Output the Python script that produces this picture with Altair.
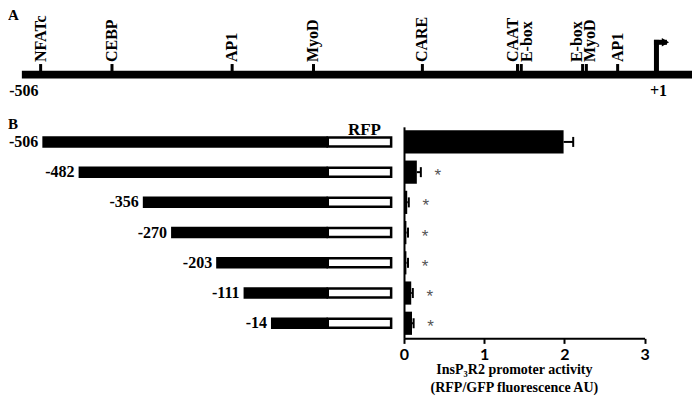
import altair as alt
import pandas as pd

# ---------------- data ----------------
# Panel A: promoter map (positions in bp relative to TSS)
site_names = ["NFATc", "CEBP", "AP1", "MyoD", "CARE", "CAAT", "E-box", "E-box", "MyoD", "AP1"]
site_bp = [-491, -434, -338, -273, -186, -110, -107, -58, -55, -30]
promoter_start = -506
tss = 1
line_end = 33
end_labels = ["-506", "+1"]
end_label_bp = [-506, 1]

# Panel B: deletion constructs
constructs = ["-506", "-482", "-356", "-270", "-203", "-111", "-14"]
schematic_start = [-1.0, -0.873, -0.648, -0.549, -0.391, -0.295, -0.199]  # relative drawn length
rfp_len = 0.222
activity = [1.99, 0.16, 0.04, 0.03, 0.03, 0.09, 0.10]
activity_err = [0.12, 0.05, 0.02, 0.02, 0.02, 0.02, 0.02]
significance = ["", "*", "*", "*", "*", "*", "*"]
x_title = ["InsP\u2083R2 promoter activity", "(RFP/GFP fluorescence AU)"]

# ---------------- layout helpers ----------------
def vx(x):
    return (x - 2) * 0.99

def vy(y):
    return y * 0.966

W = 684
H = vy(342)
SERIF = "Liberation Serif"

xA = alt.Scale(domain=[promoter_start, tss], range=[vx(16), vx(657)])
ppb = (vx(657) - vx(16)) / (tss - promoter_start)
label_dx_px = {5: -5, 6: 6, 7: -6, 8: 4}

sites = pd.DataFrame({
    "site": site_names,
    "bp": site_bp,
    "label_bp": [b + label_dx_px.get(i, 0) / ppb for i, b in enumerate(site_bp)],
})
line_df = pd.DataFrame({"start": [promoter_start], "end": [line_end]})
ends_df = pd.DataFrame({"bp": end_label_bp, "lab": end_labels})
tss_df = pd.DataFrame({"tss": [tss], "arrow_end": [tss + 8 / ppb], "head": [tss + 9 / ppb]})

lineA = alt.Chart(line_df).mark_rule(color="black", strokeWidth=vy(8), strokeCap="butt").encode(
    x=alt.X("start:Q", scale=xA, axis=None), x2="end:Q", y=alt.value(vy(69)))
ticksA = alt.Chart(sites).mark_rule(color="black", strokeWidth=3).encode(
    x=alt.X("bp:Q", scale=xA), y=alt.value(vy(58)), y2=alt.value(vy(67)))
labelsA = alt.Chart(sites).mark_text(angle=270, align="left", baseline="middle",
                                     font=SERIF, fontWeight="bold", fontSize=16, color="black").encode(
    x=alt.X("label_bp:Q", scale=xA), y=alt.value(vy(56)), text="site:N")
endsA = alt.Chart(ends_df).mark_text(align="center", baseline="middle", dx=2,
                                     font=SERIF, fontWeight="bold", fontSize=16, color="black").encode(
    x=alt.X("bp:Q", scale=xA), y=alt.value(vy(86)), text="lab:N")
arrowV = alt.Chart(tss_df).mark_rule(color="black", strokeWidth=5, strokeCap="butt").encode(
    x=alt.X("tss:Q", scale=xA), y=alt.value(vy(33)), y2=alt.value(vy(66)))
arrowH = alt.Chart(tss_df).mark_rule(color="black", strokeWidth=5, strokeCap="square").encode(
    x=alt.X("tss:Q", scale=xA), x2="arrow_end:Q", y=alt.value(vy(35.5)))
arrowHead = alt.Chart(tss_df).mark_point(shape="triangle-right", filled=True, color="black",
                                         size=70, opacity=1).encode(
    x=alt.X("head:Q", scale=xA), y=alt.value(vy(35.5)))
panelA = alt.layer(lineA, ticksA, labelsA, endsA, arrowV, arrowH, arrowHead)

# ---------------- panel B: schematic ----------------
yB = alt.Scale(domain=constructs, range=[vy(123), vy(342)], paddingInner=0.23, paddingOuter=0.115)
xS = alt.Scale(domain=[-1.0, rfp_len], range=[vx(36.7), vx(389)])

schem_df = pd.DataFrame({"construct": constructs, "start": schematic_start,
                         "zero": [0.0] * len(constructs), "rfp": [rfp_len] * len(constructs)})
blackBars = alt.Chart(schem_df).mark_bar(color="black", size=11.5).encode(
    x=alt.X("start:Q", scale=xS, axis=None), x2="zero:Q",
    y=alt.Y("construct:N", scale=yB, sort=constructs, axis=None))
rfpBox = alt.Chart(schem_df).mark_bar(fill="white", stroke="black", strokeWidth=2.5, size=9).encode(
    x=alt.X("zero:Q", scale=xS), x2="rfp:Q",
    y=alt.Y("construct:N", scale=yB, sort=constructs))
rowLabels = alt.Chart(schem_df).mark_text(align="right", baseline="middle", dx=-4,
                                          font=SERIF, fontWeight="bold", fontSize=16, color="black").encode(
    x=alt.X("start:Q", scale=xS),
    y=alt.Y("construct:N", scale=yB, sort=constructs), text="construct:N")
schem = alt.layer(blackBars, rfpBox, rowLabels)

# ---------------- panel B: activity bars ----------------
xB = alt.Scale(domain=[0, 3], range=[vx(402), vx(645)])
bar_df = pd.DataFrame({"construct": constructs, "value": activity,
                       "hi": [a + e for a, e in zip(activity, activity_err)], "sig": significance})
x_axis = alt.Axis(orient="bottom", values=[0, 1, 2, 3], format="d", grid=False, domainColor="black",
                  domainWidth=2, tickColor="black", tickWidth=2, tickSize=5, labelFont="Lato",
                  labelFontWeight="bold", labelFontSize=16, labelColor="black", labelPadding=3,
                  labelFlush=False, title=x_title, titleFont=SERIF, titleFontWeight="bold",
                  titleFontSize=14, titleColor="black", titleLineHeight=18, titleX=vx(513), titleY=24,
                  titleBaseline="top", titleAlign="center")
y_axis = alt.Axis(orient="left", labels=False, ticks=False, title=None, grid=False, domainColor="black",
                  domainWidth=2, offset=-vx(402))
barM = alt.Chart(bar_df).mark_bar(color="black", size=vy(24)).encode(
    x=alt.X("value:Q", scale=xB, axis=x_axis),
    y=alt.Y("construct:N", scale=yB, sort=constructs, axis=y_axis))
errRule = alt.Chart(bar_df).mark_rule(color="black", strokeWidth=2).encode(
    x=alt.X("value:Q", scale=xB), x2="hi:Q",
    y=alt.Y("construct:N", scale=yB, sort=constructs))
errCap = alt.Chart(bar_df).mark_tick(color="black", thickness=2, size=10, opacity=1).encode(
    x=alt.X("hi:Q", scale=xB),
    y=alt.Y("construct:N", scale=yB, sort=constructs))
stars = alt.Chart(bar_df).mark_text(align="center", baseline="middle", dx=17, dy=4,
                                    font="Liberation Sans", fontSize=17, color="#555555").encode(
    x=alt.X("hi:Q", scale=xB),
    y=alt.Y("construct:N", scale=yB, sort=constructs), text="sig:N")
barsB = alt.layer(barM, errRule, errCap, stars)

# ---------------- free labels ----------------
letters = alt.Chart(pd.DataFrame({"t": ["A"]})).mark_text(
    align="left", baseline="middle", font=SERIF, fontWeight="bold", fontSize=15, color="black").encode(
    x=alt.value(vx(2)), y=alt.value(vy(7)), text="t:N")
letterB = alt.Chart(pd.DataFrame({"t": ["B"]})).mark_text(
    align="left", baseline="middle", font=SERIF, fontWeight="bold", fontSize=15, color="black").encode(
    x=alt.value(vx(2)), y=alt.value(vy(120.5)), text="t:N")
rfpText = alt.Chart(pd.DataFrame({"t": ["RFP"]})).mark_text(
    align="center", baseline="middle", font=SERIF, fontWeight="bold", fontSize=17, color="black").encode(
    x=alt.value(vx(362)), y=alt.value(vy(126)), text="t:N")

chart = alt.layer(panelA, schem, barsB, letters, letterB, rfpText).resolve_scale(
    x="independent", y="independent"
).properties(
    width=W, height=H,
    autosize=alt.AutoSizeParams(type="none"),
    padding={"left": 0, "top": 0, "right": 0, "bottom": 394 - H},
).configure_view(stroke=None)

chart.save("out.html", embed_options={"renderer": "svg", "actions": False})
